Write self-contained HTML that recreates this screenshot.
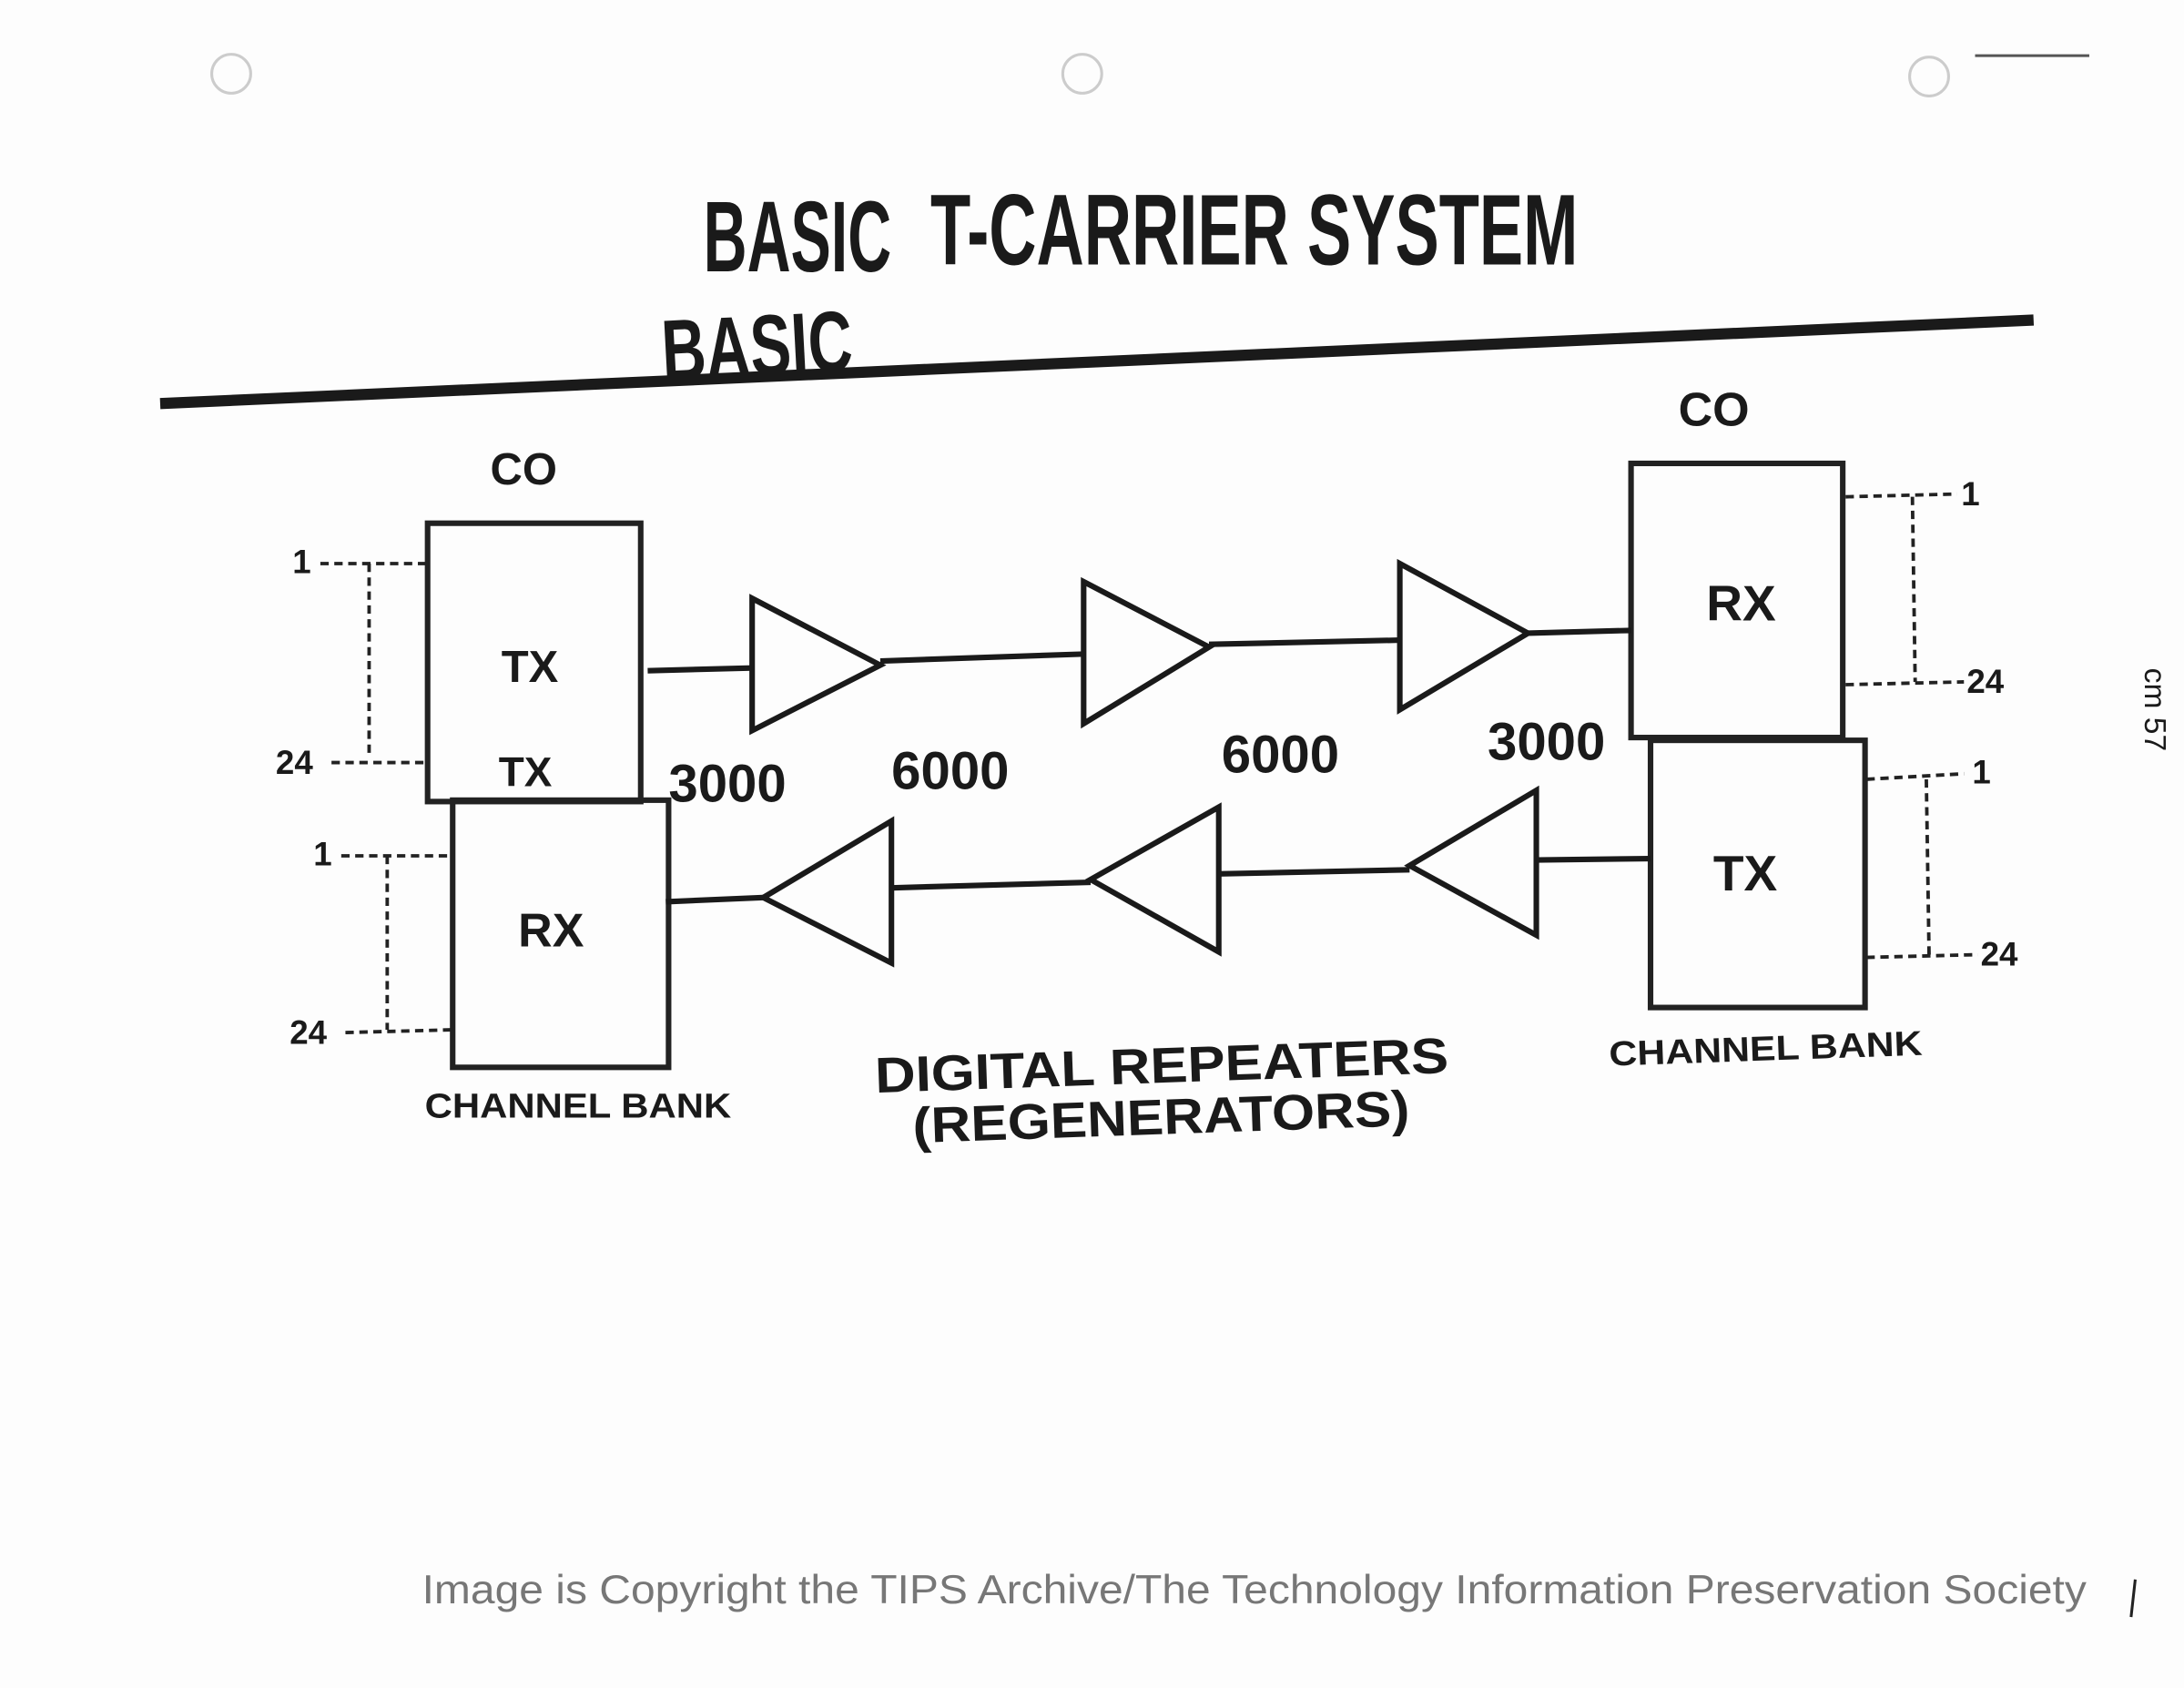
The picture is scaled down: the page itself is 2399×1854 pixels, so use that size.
<!DOCTYPE html>
<html><head><meta charset="utf-8"><style>
html,body{margin:0;padding:0;background:#fff;}
svg{display:block;}
text{font-family:"Liberation Sans",sans-serif;font-weight:bold;fill:#1a1a1a;}
</style></head><body>
<svg width="2399" height="1854" viewBox="0 0 1568 1213" preserveAspectRatio="none" xmlns="http://www.w3.org/2000/svg">
<rect width="1568" height="1213" fill="#fdfdfd"/>
<g fill="none" stroke="#ccc" stroke-width="2">
<circle cx="166" cy="53" r="14"/><circle cx="777" cy="53" r="14"/><circle cx="1385" cy="55" r="14"/>
</g>
<line x1="1418" y1="40" x2="1500" y2="40" stroke="#555" stroke-width="2"/>
<!-- title -->
<text x="505" y="195" font-size="72" textLength="135" lengthAdjust="spacingAndGlyphs" fill="#444">BASIC</text>
<text x="668" y="190" font-size="72" textLength="465" lengthAdjust="spacingAndGlyphs">T-CARRIER SYSTEM</text>
<text x="475" y="270" font-size="62" textLength="137" lengthAdjust="spacingAndGlyphs" fill="#555" transform="rotate(-3 540 250)">BASIC</text>
<line x1="115" y1="290" x2="1460" y2="230" stroke="#1a1a1a" stroke-width="8"/>
<text x="352" y="348" font-size="32">CO</text>
<text x="1205" y="306" font-size="34">CO</text>
<!-- left boxes -->
<g fill="none" stroke="#222" stroke-width="4">
<rect x="307" y="376" width="153" height="200"/>
<rect x="325" y="575" width="155" height="192"/>
<rect x="1171" y="333" width="152" height="197"/>
<rect x="1185" y="532" width="154" height="192"/>
</g>
<text x="360" y="490" font-size="32" fill="#777">TX</text>
<text x="358" y="565" font-size="30" fill="#777">TX</text>
<text x="372" y="680" font-size="34">RX</text>
<text x="1225" y="446" font-size="36">RX</text>
<text x="1230" y="640" font-size="36">TX</text>
<!-- amplifiers -->
<g fill="none" stroke="#1a1a1a" stroke-width="4" stroke-linejoin="miter">
<polygon points="540,430 540,525 632,478"/>
<polygon points="778,418 778,520 868,465"/>
<polygon points="1005,405 1005,510 1097,455"/>
<polygon points="640,590 640,692 548,645"/>
<polygon points="875,580 875,684 783,632"/>
<polygon points="1103,568 1103,672 1012,622"/>
<line x1="465" y1="482" x2="540" y2="480"/>
<line x1="632" y1="475" x2="778" y2="470"/>
<line x1="868" y1="463" x2="1005" y2="460"/>
<line x1="1097" y1="455" x2="1171" y2="453"/>
<line x1="478" y1="648" x2="548" y2="645"/>
<line x1="640" y1="638" x2="783" y2="634"/>
<line x1="875" y1="628" x2="1012" y2="625"/>
<line x1="1103" y1="618" x2="1185" y2="617"/>
</g>
<text x="480" y="576" font-size="38">3000</text>
<text x="640" y="567" font-size="38">6000</text>
<text x="877" y="555" font-size="38">6000</text>
<text x="1068" y="546" font-size="38">3000</text>
<!-- dashed fans -->
<g fill="none" stroke="#222" stroke-width="2.5" stroke-dasharray="6,4">
<polyline points="1325,357 1405,355"/><line x1="1373" y1="357" x2="1375" y2="490"/><polyline points="1325,492 1410,490"/>
<polyline points="1340,560 1410,556"/><line x1="1383" y1="560" x2="1385" y2="688"/><polyline points="1340,688 1420,686"/>
<polyline points="230,405 307,405"/><line x1="265" y1="405" x2="265" y2="545"/><polyline points="238,548 307,548"/>
<polyline points="245,615 325,615"/><line x1="278" y1="615" x2="278" y2="740"/><polyline points="248,742 325,740"/>
</g>
<g font-size="24">
<text x="1408" y="363">1</text><text x="1412" y="498">24</text>
<text x="1416" y="563">1</text><text x="1422" y="694">24</text>
<text x="210" y="412" fill="#555">1</text><text x="198" y="556" fill="#555">24</text>
<text x="225" y="622" fill="#555">1</text><text x="208" y="750" fill="#555">24</text>
</g>
<text x="305" y="803" font-size="25" textLength="220" lengthAdjust="spacingAndGlyphs">CHANNEL BANK</text>
<text x="1155" y="762" font-size="25" textLength="225" lengthAdjust="spacingAndGlyphs" transform="rotate(-2 1268 750)">CHANNEL BANK</text>
<text x="628" y="778" font-size="36" textLength="412" lengthAdjust="spacingAndGlyphs" transform="rotate(-2 834 765)">DIGITAL REPEATERS</text>
<text x="655" y="815" font-size="36" textLength="357" lengthAdjust="spacingAndGlyphs" transform="rotate(-2 834 800)">(REGENERATORS)</text>
<text x="1540" y="480" font-size="22" font-weight="normal" transform="rotate(90 1540 480)" style="font-weight:normal">cm 57</text>
<text x="303" y="1152" font-size="29" textLength="1195" lengthAdjust="spacingAndGlyphs" style="font-weight:normal;fill:#777">Image is Copyright the TIPS Archive/The Technology Information Preservation Society</text>
<line x1="1533" y1="1135" x2="1530" y2="1162" stroke="#222" stroke-width="2"/>
</svg>
</body></html>
